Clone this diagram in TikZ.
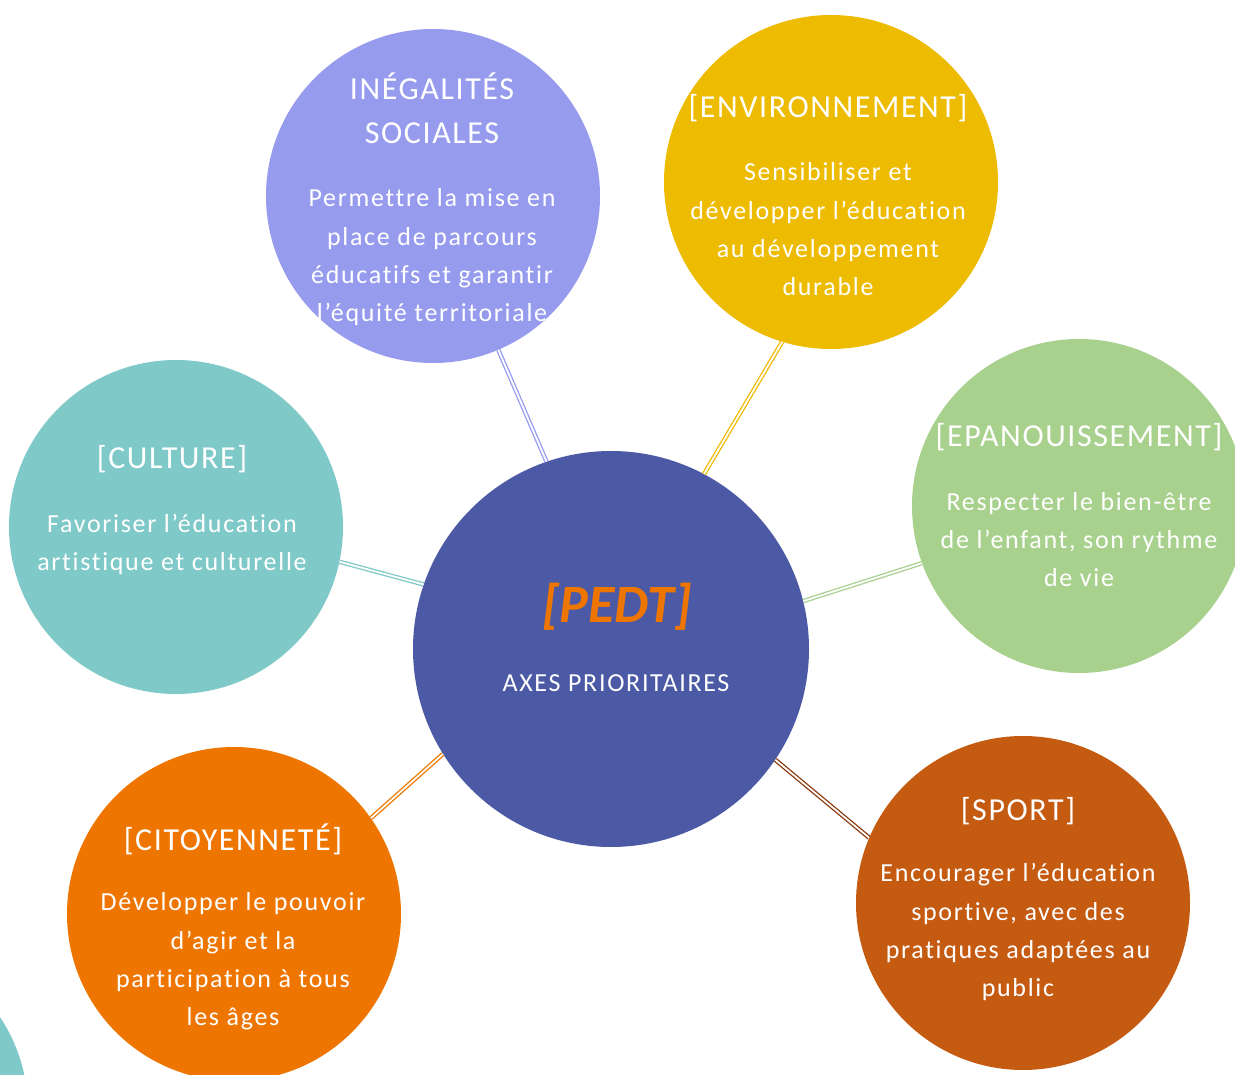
\documentclass[tikz,border=0pt]{standalone}
\usepackage{fontspec}
\setmainfont{Carlito}[LetterSpace=5,Ligatures={NoCommon}]
\newfontfamily\bodyfam{Carlito}[LetterSpace=6.5,Ligatures={NoCommon}]
\newfontfamily\pedtfam{Carlito}[Ligatures={NoCommon}]
\begin{document}
\definecolor{cPurple}{HTML}{969BEE}
\definecolor{cYellow}{HTML}{EDBB00}
\definecolor{cGreen}{HTML}{A9D18E}
\definecolor{cTeal}{HTML}{7FC9C8}
\definecolor{cOrange}{HTML}{EE7600}
\definecolor{cBrown}{HTML}{C55A11}
\definecolor{cBrownLine}{HTML}{8B3A0F}
\definecolor{cCenter}{HTML}{4C5AA6}
\begin{tikzpicture}[x=1pt,y=-1pt,
  bubble/.style={circle,minimum size=334pt,inner sep=0pt,draw=none},
  conn/.style={line width=1.3pt,double=white,double distance=1.8pt},
  head/.style={anchor=base,text=white,font=\fontsize{32}{38}\selectfont,inner sep=0pt},
  body/.style={anchor=base,text=white,font=\bodyfam\fontsize{26}{32}\selectfont,inner sep=0pt}]
\useasboundingbox (0,0) rectangle (1235,1075);
\clip (0,0) rectangle (1235,1075);
\fill[white] (0,0) rectangle (1235,1075);
% circles
\node[bubble,fill=cTeal,minimum size=336pt] (extra) at (-140,1110) {};
\node[bubble,fill=cCenter,minimum size=396pt] (c) at (611,649) {};
\node[bubble,fill=cPurple] (p) at (433,196) {};
\node[bubble,fill=cYellow] (y) at (831,182) {};
\node[bubble,fill=cGreen] (g) at (1079,506) {};
\node[bubble,fill=cTeal] (t) at (176,527) {};
\node[bubble,fill=cOrange] (o) at (234,914) {};
\node[bubble,fill=cBrown] (s) at (1023,903) {};
% connectors
\draw[conn,draw=cPurple] (p.-67) -- (c.109.4);
\draw[conn,draw=cYellow] (y.-107) -- (c.62.8);
\draw[conn,draw=cTeal] (t.-12.4) -- (c.161.8);
\draw[conn,draw=cGreen] (g.-160) -- (c.14.9);
\draw[conn,draw=cOrange] (o.35.8) -- (c.-148.9);
\draw[conn,draw=cBrownLine] (s.157.7) -- (c.-34.2);
% center text
\node[anchor=base,inner sep=0pt,text=cOrange,font=\pedtfam\fontsize{54}{60}\selectfont\bfseries\itshape] (pedt) at (617,622) {[PEDT]};
\node[body] (axes) at (616,691) {AXES PRIORITAIRES};
% purple
\node[head] (p1) at (432,99.3) {INÉGALITÉS};
\node[head] (p2) at (432,143.3) {SOCIALES};
\node[body] (p3) at (432,206.7) {Permettre la mise en};
\node[body] (p4) at (432,245.1) {place de parcours};
\node[body] (p5) at (432,283.5) {éducatifs et garantir};
\node[body] (p6) at (432,321.9) {l’équité territoriale};
% yellow
\node[head] (y1) at (828,117.3) {[ENVIRONNEMENT]};
\node[body] (y2) at (828,180.7) {Sensibiliser et};
\node[body] (y3) at (828,219.1) {développer l’éducation};
\node[body] (y4) at (828,257.5) {au développement};
\node[body] (y5) at (828,295.9) {durable};
% green
\node[head] (g1) at (1079,446.5) {[EPANOUISSEMENT]};
\node[body] (g2) at (1079,510) {Respecter le bien-être};
\node[body] (g3) at (1079,548.4) {de l’enfant, son rythme};
\node[body] (g4) at (1079,586.8) {de vie};
% teal
\node[head] (t1) at (172,468.5) {[CULTURE]};
\node[body] (t2) at (172,532) {Favoriser l’éducation};
\node[body] (t3) at (172,570.4) {artistique et culturelle};
% orange
\node[head] (o1) at (233,850.7) {[CITOYENNETÉ]};
\node[body] (o2) at (233,910.7) {Développer le pouvoir};
\node[body] (o3) at (233,949.1) {d’agir et la};
\node[body] (o4) at (233,987.5) {participation à tous};
\node[body] (o5) at (233,1025.9) {les âges};
% sport
\node[head] (s1) at (1018,820) {[SPORT]};
\node[body] (s2) at (1018,881.7) {Encourager l’éducation};
\node[body] (s3) at (1018,920.1) {sportive, avec des};
\node[body] (s4) at (1018,958.5) {pratiques adaptées au};
\node[body] (s5) at (1018,996.9) {public};
\end{tikzpicture}
\end{document}
